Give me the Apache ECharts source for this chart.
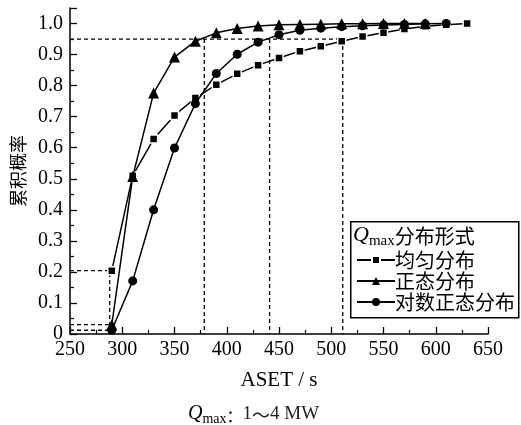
<!DOCTYPE html>
<html>
<head>
<meta charset="utf-8">
<script src="https://cdn.jsdelivr.net/npm/echarts@6/dist/echarts.min.js"></script>
<style>html,body{margin:0;padding:0;background:#fff}#c{width:521px;height:425px}</style>
</head>
<body>
<div id="c"></div>
<script>
// ASET sample points (s)
var asetUniform = [290,310,330,350,370,390,410,430,450,470,490,510,530,550,570,590,610,630];
var asetNormal = [290,310,330,350,370,390,410,430,450,470,490,510,530,550,570,590];
var asetLognormal = [290,310,330,350,370,390,410,430,450,470,490,510,530,550,570,590,610];
// cumulative probability
var probUniform = [0.204,0.51,0.628,0.704,0.760,0.803,0.838,0.866,0.889,0.911,0.927,0.943,0.958,0.970,0.982,0.991,0.996,1.0];
var probNormal = [0.03,0.507,0.776,0.892,0.943,0.970,0.984,0.992,0.996,0.997,0.998,0.999,0.999,1.0,1.0,1.0];
var probLognormal = [0.012,0.171,0.40,0.599,0.742,0.839,0.901,0.940,0.964,0.978,0.985,0.990,0.993,0.995,0.997,0.999,1.0];
var seriesNames = ['均匀分布','正态分布','对数正态分布'];
// reference guide lines (ASET, probability)
var guideLevel = 0.95;
var guideAset = [378.5, 441, 511];
var lowLevels = [0.204, 0.03, 0.012];
var lowAset = [288, 290, 290];
var xTicks = {min:250, max:650, step:50};

function pairs(xs, ys){ return xs.map(function(x,i){ return [x, ys[i]]; }); }

var serif = 'Liberation Serif';
var cjk = 'Noto Sans CJK SC';

var guideSeries = [];
function addGuide(data){
  guideSeries.push({type:'line', data:data, symbol:'none', silent:true, z:1,
    lineStyle:{color:'#000', width:1.3, type:[4,3]}, legendHoverLink:false});
}
addGuide([[xTicks.min, guideLevel],[guideAset[2], guideLevel]]);
guideAset.forEach(function(a){ addGuide([[a, guideLevel],[a, 0]]); });
addGuide([[xTicks.min, lowLevels[0]],[lowAset[0], lowLevels[0]],[lowAset[0], 0]]);
addGuide([[xTicks.min, lowLevels[1]],[lowAset[1], lowLevels[1]]]);
addGuide([[xTicks.min, lowLevels[2]],[lowAset[2], lowLevels[2]]]);

var chart = echarts.init(document.getElementById('c'), null, {renderer:'canvas'});
chart.setOption({
  animation:false,
  backgroundColor:'#fff',
  grid:{left:70, right:33, top:8, bottom:91, containLabel:false},
  xAxis:{type:'value', min:xTicks.min, max:xTicks.max, interval:xTicks.step,
    name:'ASET / s', nameLocation:'middle', nameGap:36,
    nameTextStyle:{fontFamily:serif, fontSize:21, color:'#000'},
    axisLine:{lineStyle:{color:'#000', width:1.5}},
    axisTick:{inside:true, length:7, lineStyle:{color:'#000', width:1.3}},
    minorTick:{show:true, splitNumber:2, length:4, lineStyle:{color:'#000', width:1.2}},
    axisLabel:{fontFamily:serif, fontSize:20, color:'#000', margin:6},
    splitLine:{show:false}},
  yAxis:{type:'value', min:0, max:1.05, interval:0.1,
    name:'累积概率', nameLocation:'middle', nameGap:36, nameRotate:90,
    nameTextStyle:{fontFamily:cjk, fontSize:18, color:'#000'},
    axisLine:{lineStyle:{color:'#000', width:1.5}},
    axisTick:{inside:true, length:7, lineStyle:{color:'#000', width:1.3}},
    minorTick:{show:true, splitNumber:2, length:4, lineStyle:{color:'#000', width:1.2}},
    axisLabel:{fontFamily:serif, fontSize:20, color:'#000', margin:7,
      formatter:function(v){ if(v>1.001) return ''; return v===0?'0':v.toFixed(1); }},
    splitLine:{show:false}},
  legend:{orient:'vertical', left:351, top:245, itemGap:1, itemWidth:38, itemHeight:10,
    data:seriesNames,
    textStyle:{fontFamily:cjk, fontSize:20, color:'#000', lineHeight:20, padding:[0,0,0,-5]}},
  graphic:[
    {type:'rect', left:350, top:221, z:0, shape:{width:168, height:96},
      style:{fill:'#fff', stroke:'#000', lineWidth:1.5}},
    {type:'text', left:353, top:224, z:10, style:{
      text:'{q|Q}{s|max}{t|分布形式}',
      rich:{q:{fontFamily:serif, fontStyle:'italic', fontSize:22, fill:'#000', verticalAlign:'bottom'},
            s:{fontFamily:serif, fontSize:15, fill:'#000', verticalAlign:'bottom', padding:[0,0,-3,0]},
            t:{fontFamily:cjk, fontSize:20, fill:'#000', verticalAlign:'bottom'}}}},
    {type:'text', left:188, top:404, z:10, style:{
      text:'{q|Q}{s|max}{c|：}{n|1}{t|～}{n|4 MW}',
      rich:{q:{fontFamily:serif, fontStyle:'italic', fontSize:20, fill:'#000', verticalAlign:'bottom'},
            s:{fontFamily:serif, fontSize:14, fill:'#000', verticalAlign:'bottom', padding:[0,0,-2,0]},
            c:{fontFamily:cjk, fontSize:16, fill:'#000', verticalAlign:'bottom'},
            t:{fontFamily:cjk, fontSize:18, fill:'#222', verticalAlign:'bottom'},
            n:{fontFamily:serif, fontSize:19, fill:'#222', verticalAlign:'bottom'}}}}
  ],
  series:guideSeries.concat([
    {name:seriesNames[0], type:'line', data:pairs(asetUniform, probUniform), z:3,
      symbol:'rect', symbolSize:8, color:'#000',
      itemStyle:{color:'#000', borderColor:'#fff', borderWidth:1.5},
      lineStyle:{color:'#000', width:1.5}},
    {name:seriesNames[1], type:'line', data:pairs(asetNormal, probNormal), z:4,
      symbol:'triangle', symbolSize:11, color:'#000',
      itemStyle:{color:'#000'}, lineStyle:{color:'#000', width:1.5}},
    {name:seriesNames[2], type:'line', data:pairs(asetLognormal, probLognormal), z:5,
      symbol:'circle', symbolSize:9, color:'#000',
      itemStyle:{color:'#000'}, lineStyle:{color:'#000', width:1.5}}
  ])
});
</script>
</body>
</html>
